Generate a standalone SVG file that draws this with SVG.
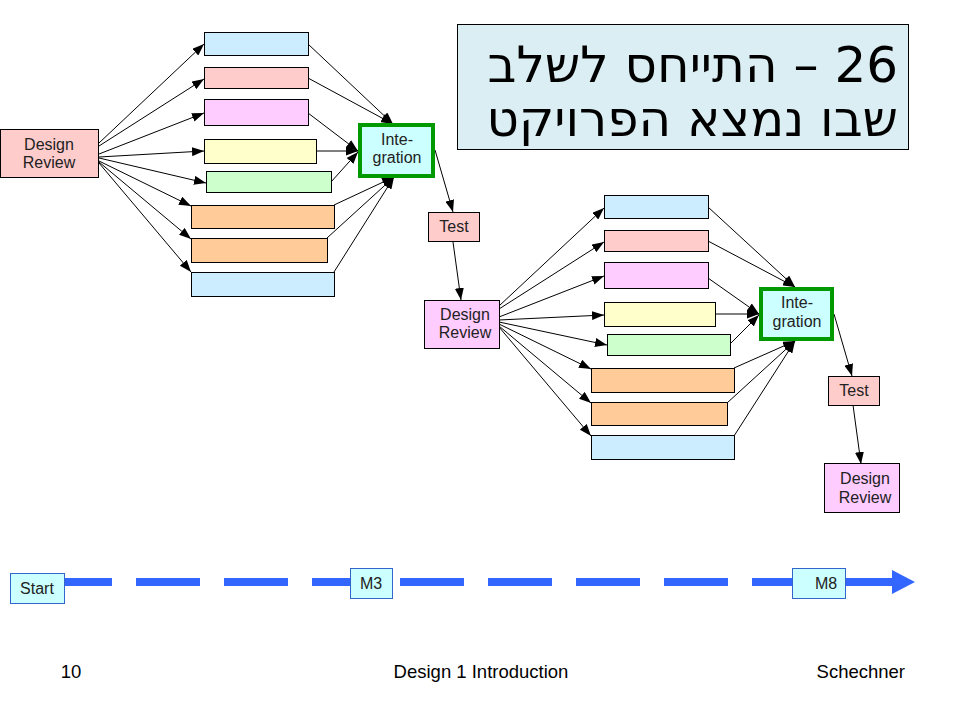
<svg xmlns="http://www.w3.org/2000/svg" width="960" height="720" viewBox="0 0 960 720">
<defs>
<marker id="ah" markerUnits="userSpaceOnUse" markerWidth="12" markerHeight="9" refX="12" refY="4.5" orient="auto">
<path d="M0,0 L12,4.5 L0,9 z" fill="#000"/>
</marker>
<style>
.bx{stroke:#000;stroke-width:1}
.blue{fill:#CCECFF}.pink{fill:#FFCCCC}.mag{fill:#FFCCFF}.yel{fill:#FFFFCC}.grn{fill:#CCFFCC}.org{fill:#FFCC99}
.int{fill:#CCFFFF;stroke:#009900;stroke-width:4}
.lbl{font-family:"Liberation Sans",Arial,sans-serif;font-size:16px;fill:#222;text-anchor:middle}
.ms{fill:#CCFFFF;stroke:#3366CC;stroke-width:1}
.foot{font-family:"Liberation Sans",Arial,sans-serif;font-size:18.5px;fill:#000}
.ttl{font-family:"DejaVu Sans",sans-serif;font-size:50px;fill:#000}
.c line{stroke:#000;stroke-width:1;marker-end:url(#ah)}
</style>
</defs>
<rect width="960" height="720" fill="#fff"/>

<g id="title">
<rect x="457.5" y="24.5" width="451" height="125" fill="#DBEEF3" stroke="#000" stroke-width="1"/>
<text class="ttl" x="898" y="82" direction="rtl" text-anchor="start">26 – התייחס לשלב</text>
<text class="ttl" x="898" y="136" direction="rtl" text-anchor="start">שבו נמצא הפרויקט</text>
</g>

<g id="connectors" class="c">
<line x1="99" y1="143" x2="204" y2="44"/>
<line x1="99" y1="146" x2="204" y2="79"/>
<line x1="99" y1="154" x2="204" y2="113"/>
<line x1="99" y1="157" x2="204" y2="151"/>
<line x1="99" y1="158" x2="206" y2="183"/>
<line x1="99" y1="161" x2="191" y2="206"/>
<line x1="99" y1="162" x2="191" y2="239"/>
<line x1="99" y1="163" x2="191" y2="272"/>
<line x1="308" y1="44" x2="393" y2="124"/>
<line x1="308" y1="78" x2="393" y2="124"/>
<line x1="308" y1="113" x2="358" y2="151"/>
<line x1="316" y1="151" x2="358" y2="151"/>
<line x1="331" y1="182" x2="358" y2="152"/>
<line x1="334" y1="205" x2="394" y2="177"/>
<line x1="327" y1="238" x2="394" y2="177"/>
<line x1="334" y1="272" x2="394" y2="177"/>
<line x1="435" y1="150" x2="453" y2="212"/>
<line x1="453" y1="242" x2="461" y2="300"/>
<line x1="499" y1="306" x2="604" y2="208"/>
<line x1="499" y1="309" x2="604" y2="242"/>
<line x1="499" y1="317" x2="604" y2="276"/>
<line x1="499" y1="320" x2="604" y2="315"/>
<line x1="499" y1="322" x2="607" y2="345"/>
<line x1="499" y1="324" x2="591" y2="369"/>
<line x1="499" y1="326" x2="591" y2="403"/>
<line x1="499" y1="327" x2="591" y2="436"/>
<line x1="708" y1="207" x2="795" y2="287"/>
<line x1="708" y1="241" x2="795" y2="287"/>
<line x1="708" y1="278" x2="759" y2="314"/>
<line x1="715" y1="314" x2="759" y2="314"/>
<line x1="730" y1="344" x2="759" y2="315"/>
<line x1="734" y1="368" x2="795" y2="341"/>
<line x1="727" y1="403" x2="795" y2="341"/>
<line x1="734" y1="436" x2="795" y2="341"/>
<line x1="834" y1="314" x2="852" y2="376"/>
<line x1="853" y1="405" x2="861" y2="464"/>
</g>

<g id="dr1"><rect class="bx pink" x="0.5" y="129.5" width="98" height="48"/>
<text class="lbl" x="49" y="150">Design</text><text class="lbl" x="49" y="168">Review</text></g>
<g id="a1"><rect class="bx blue" x="204.5" y="32.5" width="104" height="23"/></g>
<g id="a2"><rect class="bx pink" x="204.5" y="67.5" width="104" height="21"/></g>
<g id="a3"><rect class="bx mag" x="204.5" y="99.5" width="104" height="26"/></g>
<g id="a4"><rect class="bx yel" x="204.5" y="139.5" width="112" height="24"/></g>
<g id="a5"><rect class="bx grn" x="206.5" y="171.5" width="125" height="21"/></g>
<g id="a6"><rect class="bx org" x="191.5" y="205.5" width="143" height="23"/></g>
<g id="a7"><rect class="bx org" x="191.5" y="238.5" width="136" height="24"/></g>
<g id="a8"><rect class="bx blue" x="191.5" y="272.5" width="143" height="24"/></g>
<g id="int1"><rect class="int" x="360" y="125" width="73" height="51"/>
<text class="lbl" x="397" y="145">Inte-</text><text class="lbl" x="397" y="163">gration</text></g>
<g id="test1"><rect class="bx pink" x="428.5" y="212.5" width="51" height="29"/>
<text class="lbl" x="454" y="232">Test</text></g>

<g id="dr2"><rect class="bx mag" x="424.5" y="300.5" width="75" height="48"/>
<text class="lbl" x="465" y="320">Design</text><text class="lbl" x="465" y="338">Review</text></g>
<g id="b1"><rect class="bx blue" x="604.5" y="195.5" width="104" height="23"/></g>
<g id="b2"><rect class="bx pink" x="604.5" y="230.5" width="104" height="21"/></g>
<g id="b3"><rect class="bx mag" x="604.5" y="262.5" width="104" height="26"/></g>
<g id="b4"><rect class="bx yel" x="604.5" y="302.5" width="111" height="24"/></g>
<g id="b5"><rect class="bx grn" x="607.5" y="334.5" width="123" height="21"/></g>
<g id="b6"><rect class="bx org" x="591.5" y="368.5" width="143" height="24"/></g>
<g id="b7"><rect class="bx org" x="591.5" y="402.5" width="136" height="23"/></g>
<g id="b8"><rect class="bx blue" x="591.5" y="435.5" width="143" height="24"/></g>
<g id="int2"><rect class="int" x="761" y="289" width="71" height="50"/>
<text class="lbl" x="797" y="308">Inte-</text><text class="lbl" x="797" y="327">gration</text></g>
<g id="test2"><rect class="bx pink" x="828.5" y="376.5" width="51" height="29"/>
<text class="lbl" x="854" y="396">Test</text></g>
<g id="dr3"><rect class="bx mag" x="824.5" y="463.5" width="75" height="49"/>
<text class="lbl" x="865" y="484">Design</text><text class="lbl" x="865" y="503">Review</text></g>

<g id="timeline">
<line x1="48" y1="582" x2="892" y2="582" stroke="#3366FF" stroke-width="8" stroke-dasharray="64 24"/>
<polygon points="892,570 915,582 892,594" fill="#3366FF"/>
</g>
<g id="start"><rect class="ms" x="10.5" y="573.5" width="54" height="30"/>
<text class="lbl" x="37" y="594">Start</text></g>
<g id="m3"><rect class="ms" x="350.5" y="568.5" width="42" height="30"/>
<text class="lbl" x="371" y="589">M3</text></g>
<g id="m8"><rect class="ms" x="792.5" y="568.5" width="53" height="30"/>
<text class="lbl" x="826" y="589">M8</text></g>

<g id="footer">
<text class="foot" x="71" y="678" text-anchor="middle">10</text>
<text class="foot" x="481" y="678" text-anchor="middle">Design 1 Introduction</text>
<text class="foot" x="905" y="678" text-anchor="end">Schechner</text>
</g>
</svg>
